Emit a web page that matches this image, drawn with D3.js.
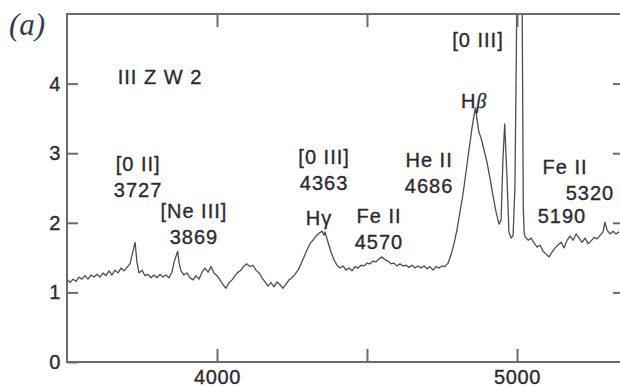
<!DOCTYPE html>
<html>
<head>
<meta charset="utf-8">
<script src="https://cdn.jsdelivr.net/npm/d3@7"></script>
<style>
  html, body { margin: 0; padding: 0; background: #fff; }
  svg { display: block; }
</style>
</head>
<body>
<svg id="chart" width="620" height="387"></svg>
<script>
// Optical spectrum of III Zw 2: wavelength (Å) and relative flux
const wavelength = [
  3503,3510,3520,3530,3540,3550,3560,3570,3580,3590,3600,3610,3620,3630,3640,3650,3660,3670,3680,3690,
  3700,3710,3717,3727,3733,3740,3750,3760,3770,3780,3790,3800,3810,3820,3830,3840,3850,3857,3869,3873,
  3880,3890,3900,3910,3920,3930,3940,3950,3960,3970,3980,3990,4000,4010,4020,4030,4040,4050,4060,4070,
  4080,4090,4100,4110,4120,4130,4140,4150,4160,4170,4180,4190,4200,4210,4220,4230,4240,4250,4260,4270,
  4280,4290,4300,4310,4320,4330,4340,4350,4357,4360,4370,4380,4390,4400,4410,4420,4430,4440,4450,4460,
  4470,4480,4490,4500,4510,4520,4530,4540,4550,4560,4570,4580,4590,4600,4610,4620,4630,4640,4650,4660,
  4670,4680,4690,4700,4710,4720,4730,4740,4750,4760,4770,4780,4790,4800,4810,4820,4830,4840,4850,4857,
  4861,4867,4873,4880,4890,4900,4910,4920,4930,4940,4947,4953,4959,4967,4973,4980,4987,4993,4998,5008,
  5018,5021,5024,5027,5037,5047,5057,5067,5077,5087,5097,5107,5117,5127,5137,5147,5157,5167,5177,5187,
  5197,5207,5217,5227,5237,5247,5257,5267,5277,5287,5293,5300,5310,5320,5330,5340
];
const flux = [
  1.18,1.14,1.19,1.16,1.22,1.19,1.24,1.19,1.25,1.22,1.26,1.22,1.28,1.24,1.31,1.25,1.32,1.28,1.35,1.31,
  1.36,1.41,1.54,1.72,1.44,1.28,1.32,1.24,1.26,1.21,1.25,1.21,1.26,1.22,1.25,1.21,1.29,1.44,1.59,1.44,
  1.31,1.25,1.28,1.21,1.18,1.24,1.19,1.29,1.35,1.29,1.37,1.28,1.24,1.18,1.11,1.06,1.14,1.18,1.24,1.29,
  1.32,1.38,1.41,1.37,1.39,1.32,1.28,1.21,1.15,1.09,1.14,1.08,1.15,1.11,1.06,1.12,1.18,1.21,1.26,1.32,
  1.41,1.51,1.61,1.70,1.75,1.81,1.85,1.88,1.82,1.87,1.72,1.58,1.47,1.39,1.35,1.38,1.32,1.35,1.31,1.37,
  1.35,1.39,1.38,1.42,1.41,1.45,1.44,1.48,1.51,1.47,1.45,1.41,1.42,1.38,1.41,1.38,1.39,1.36,1.39,1.35,
  1.38,1.35,1.38,1.34,1.37,1.32,1.37,1.35,1.38,1.37,1.42,1.54,1.70,1.90,2.16,2.41,2.73,3.05,3.36,3.55,
  3.65,3.48,3.30,3.22,3.05,2.87,2.64,2.39,2.16,1.98,2.04,2.90,3.42,2.61,1.87,1.78,1.82,2.50,4.50,12.0,
  4.50,2.20,1.85,1.80,1.75,1.78,1.71,1.65,1.68,1.59,1.55,1.51,1.58,1.64,1.68,1.72,1.64,1.75,1.81,1.75,
  1.84,1.78,1.72,1.78,1.70,1.74,1.79,1.77,1.82,1.87,2.01,1.90,1.84,1.88,1.84,1.87
];
const spectrum = wavelength.map((w, i) => ({ w, f: flux[i] }));

const xTicks = [4000, 4500, 5000];
const xTickLabels = ["4000", "", "5000"];
const yTicks = [0, 1, 2, 3, 4];

// Line identifications: text lines (segments of [text, italic]), centre wavelength,
// and flux level of the first baseline
const labelText = [
  [[["[0 II]"]], [["3727"]]],
  [[["[Ne III]"]], [["3869"]]],
  [[["[0 III]"]], [["4363"]]],
  [[["Hγ"]]],
  [[["Fe II"]], [["4570"]]],
  [[["He II"]], [["4686"]]],
  [[["[0 III]"]]],
  [[["H"], ["β", true]]],
  [[["Fe II"]]],
  [[["5320"]]],
  [[["5190"]]],
  [[["III Z W 2"]]]
];
const labelWave = [3737, 3923, 4357, 4340, 4540, 4707, 4870, 4857, 5160, 5243, 5150, 3810];
const labelFlux = [2.74, 2.07, 2.85, 1.97, 2.00, 2.80, 4.53, 3.65, 2.70, 2.33, 2.00, 3.99];

const svg = d3.select("#chart");
const W = 620, H = 387;
const margin = { left: 67, top: 14, right: -2, bottom: 25 };

const x = d3.scaleLinear().domain([3500, 5350]).range([margin.left, W - margin.right]);
const y = d3.scaleLinear().domain([0, 5]).range([H - margin.bottom, margin.top]);

const axisColor = "#6b6b6b";
const textColor = "#2a2a36";
const sans = "'Liberation Sans', Arial, Helvetica, sans-serif";

svg.append("clipPath").attr("id", "plotClip")
  .append("rect")
  .attr("x", x.range()[0]).attr("y", y.range()[1])
  .attr("width", x.range()[1] - x.range()[0])
  .attr("height", y.range()[0] - y.range()[1]);

// Spectrum trace
const line = d3.line().x(d => x(d.w)).y(d => y(d.f));
svg.append("path")
  .datum(spectrum)
  .attr("clip-path", "url(#plotClip)")
  .attr("fill", "none")
  .attr("stroke", "#4d4d4d")
  .attr("stroke-width", 1.3)
  .attr("stroke-linejoin", "round")
  .attr("d", line);

// Frame
svg.append("rect")
  .attr("x", x.range()[0]).attr("y", y.range()[1])
  .attr("width", x.range()[1] - x.range()[0])
  .attr("height", y.range()[0] - y.range()[1])
  .attr("fill", "none")
  .attr("stroke", axisColor)
  .attr("stroke-width", 2);

// Axes with inward ticks
const axisB = svg.append("g")
  .attr("transform", `translate(0,${y(0)})`)
  .call(d3.axisBottom(x).tickValues(xTicks).tickSizeInner(-13).tickSizeOuter(0)
    .tickPadding(8).tickFormat((d, i) => xTickLabels[i]));
const axisT = svg.append("g")
  .attr("transform", `translate(0,${y(5)})`)
  .call(d3.axisTop(x).tickValues(xTicks).tickSizeInner(-13).tickSizeOuter(0).tickFormat(""));
const axisL = svg.append("g")
  .attr("transform", `translate(${x(3500)},0)`)
  .call(d3.axisLeft(y).tickValues(yTicks).tickSizeInner(-11).tickSizeOuter(0)
    .tickPadding(6).tickFormat(d3.format("d")));
const axisR = svg.append("g")
  .attr("transform", `translate(${x(5350)},0)`)
  .call(d3.axisRight(y).tickValues(yTicks.slice(1)).tickSizeInner(-9).tickSizeOuter(0).tickFormat(""));

function textStyle(sel, spacing) {
  sel.style("font-family", sans)
    .style("font-size", "20px")
    .style("letter-spacing", spacing)
    .style("fill", textColor)
    .style("stroke", textColor)
    .style("stroke-width", "0.35px");
}

[axisB, axisT, axisL, axisR].forEach(g => {
  g.select(".domain").remove();
  g.selectAll(".tick line").attr("stroke", axisColor).attr("stroke-width", 2);
  textStyle(g.selectAll(".tick text"), "0.6px");
});
axisB.selectAll(".tick text").attr("y", 22).attr("dy", 0);

// Panel tag
svg.append("text")
  .attr("x", 9).attr("y", 35)
  .style("font-family", "'Liberation Serif', 'Times New Roman', serif")
  .style("font-style", "italic")
  .style("font-size", "31px")
  .style("fill", "#2c3a5c")
  .text("(a)");

// Line identification labels
const labels = svg.append("g");
labelText.forEach((lines, i) => {
  const t = labels.append("text")
    .attr("x", x(labelWave[i]))
    .attr("y", y(labelFlux[i]))
    .attr("text-anchor", "middle");
  textStyle(t, "1px");
  lines.forEach((segs, j) => {
    segs.forEach((seg, k) => {
      const sp = t.append("tspan").text(seg[0]);
      if (k === 0) sp.attr("x", x(labelWave[i])).attr("dy", j === 0 ? 0 : 26);
      if (seg[1]) sp.style("font-style", "italic").style("font-family", "'Liberation Serif', serif");
    });
  });
});
</script>
</body>
</html>
